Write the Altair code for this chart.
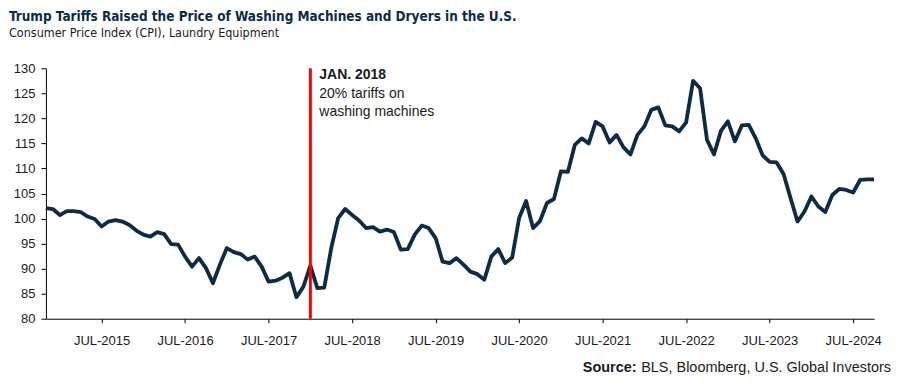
import altair as alt
import pandas as pd

# Monthly CPI, Laundry Equipment, Nov 2014 - Oct 2024
start_year = 2014
start_month = 11
cpi = [
    102.1, 101.9, 100.7, 101.5, 101.5, 101.3, 100.4, 99.9, 98.4, 99.4,
    99.7, 99.4, 98.7, 97.6, 96.8, 96.4, 97.3, 96.9, 94.9, 94.8,
    92.4, 90.4, 92.1, 90.1, 87.1, 90.8, 94.1, 93.3, 92.9, 91.8,
    92.4, 90.4, 87.4, 87.6, 88.2, 89.1, 84.3, 86.4, 90.6, 86.1,
    86.2, 94.1, 100.1, 101.9, 100.7, 99.6, 98.1, 98.3, 97.4, 97.8,
    97.3, 93.8, 93.9, 96.8, 98.6, 98.1, 96.1, 91.4, 91.1, 92.1,
    90.8, 89.4, 88.9, 87.8, 92.4, 93.9, 91.1, 92.2, 100.1, 103.5,
    98.1, 99.5, 103.1, 103.9, 109.4, 109.3, 114.7, 116.0, 115.0, 119.3,
    118.4, 115.2, 116.7, 114.2, 112.8, 116.7, 118.4, 121.7, 122.2, 118.6,
    118.4, 117.4, 119.2, 127.5, 126.0, 115.7, 112.8, 117.5, 119.4, 115.4,
    118.6, 118.7, 116.0, 112.6, 111.3, 111.2, 108.9, 104.1, 99.4, 101.4,
    104.4, 102.4, 101.3, 104.7, 105.9, 105.7, 105.2, 107.7, 107.8, 107.8,
]
tick_labels = ["JUL-2015", "JUL-2016", "JUL-2017", "JUL-2018", "JUL-2019",
               "JUL-2020", "JUL-2021", "JUL-2022", "JUL-2023", "JUL-2024"]
tick_months = [8, 20, 32, 44, 56, 68, 80, 92, 104, 116]  # month index of each July
event_month = [38]  # Jan 2018
event_title = "JAN. 2018"
event_text = ["20% tariffs on", "washing machines"]
y_ticks = [80, 85, 90, 95, 100, 105, 110, 115, 120, 125, 130]

NAVY = "#0c2b47"
FONT = "Liberation Sans"
NARROW = "Liberation Sans Narrow, DejaVu Sans Condensed, Liberation Sans"

df = pd.DataFrame({"m": list(range(len(cpi))), "cpi": cpi})
ev = pd.DataFrame({"m": event_month, "top": [130]})

label_expr = "{" + ", ".join(f"'{m}': '{l}'" for m, l in zip(tick_months, tick_labels)) + "}[datum.value]"

x_scale = alt.Scale(domain=[0, len(cpi) - 1], nice=False, zero=False)
y_scale = alt.Scale(domain=[80, 130], nice=False, zero=False)
x_axis = alt.Axis(values=tick_months, labelExpr=label_expr, title=None, grid=False,
                  tickSize=4, labelPadding=12, domainColor="black", tickColor="black",
                  labelOverlap=False, labelFont=FONT, labelFontSize=13, labelColor="#1a1a1a")
y_axis = alt.Axis(values=y_ticks, title=None, grid=False, tickSize=5, labelPadding=6,
                  domainColor="black", tickColor="black", labelOverlap=False,
                  labelFont=FONT, labelFontSize=13, labelColor="#1a1a1a")

line = alt.Chart(df).mark_line(color=NAVY, strokeWidth=3.8, strokeJoin="round").encode(
    x=alt.X("m:Q", scale=x_scale, axis=x_axis),
    y=alt.Y("cpi:Q", scale=y_scale, axis=y_axis),
)

rule = alt.Chart(ev).mark_rule(color="#ff0000", strokeWidth=3).encode(
    x=alt.X("m:Q", scale=x_scale, axis=x_axis))

ann1 = alt.Chart(ev).mark_text(align="left", baseline="alphabetic", dx=9, dy=11,
                               font=FONT, fontSize=14, fontWeight="bold", color="#1a1a1a").encode(
    x=alt.X("m:Q", scale=x_scale, axis=x_axis),
    y=alt.Y("top:Q", scale=y_scale, axis=y_axis), text=alt.value(event_title))
ann2 = alt.Chart(ev).mark_text(align="left", baseline="alphabetic", dx=9, dy=30, lineHeight=18,
                               font=FONT, fontSize=14, color="#1a1a1a").encode(
    x=alt.X("m:Q", scale=x_scale, axis=x_axis),
    y=alt.Y("top:Q", scale=y_scale, axis=y_axis), text=alt.value(event_text))

src_bold = alt.Chart(ev).mark_text(align="right", baseline="alphabetic", font=FONT, fontSize=14.5,
                                   fontWeight="bold", color="#1a1a1a").encode(
    x=alt.value(592), y=alt.value(304), text=alt.value("Source:"))
src_rest = alt.Chart(ev).mark_text(align="right", baseline="alphabetic", font=FONT, fontSize=14.5,
                                   color="#1a1a1a").encode(
    x=alt.value(847), y=alt.value(304), text=alt.value("BLS, Bloomberg, U.S. Global Investors"))

chart = alt.layer(line, rule, ann1, ann2, src_bold, src_rest).properties(
    width=830, height=251,
    title=alt.TitleParams(
        text="Trump Tariffs Raised the Price of Washing Machines and Dryers in the U.S.",
        subtitle="Consumer Price Index (CPI), Laundry Equipment",
        anchor="start", frame="group", dx=-37, offset=23,
        font=NARROW, fontSize=13.5, fontWeight="bold", color=NAVY,
        subtitleFont=NARROW, subtitleFontSize=12.5, subtitleColor="#1a1a1a", subtitlePadding=3,
    ),
    autosize=alt.AutoSizeParams(type="none"),
    padding={"left": 38, "top": 60, "right": 18, "bottom": 60},
).configure_view(stroke=None)

chart.save("out.html", embed_options={"renderer": "svg", "actions": False})
